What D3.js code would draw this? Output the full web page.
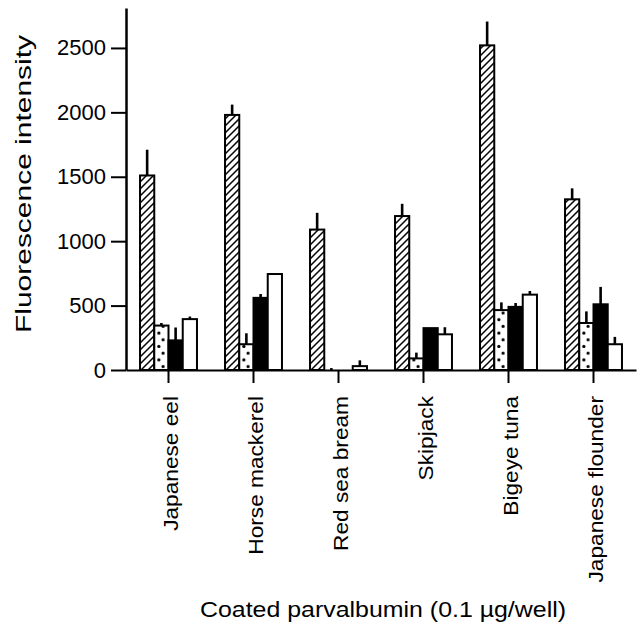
<!DOCTYPE html>
<html>
<head>
<meta charset="utf-8">
<script src="https://cdn.jsdelivr.net/npm/d3@7"></script>
<style>
  body { margin: 0; background: #fff; }
  svg { font-family: "Liberation Sans", Arial, Helvetica, sans-serif; }
</style>
</head>
<body>
<svg id="chart" width="640" height="626"></svg>
<script>
// categories and series
var categories = ["Japanese eel", "Horse mackerel", "Red sea bream", "Skipjack", "Bigeye tuna", "Japanese flounder"];
var seriesKeys = ["hatched", "dotted", "black", "white"];

var hatchedVals = [1510, 1980, 1090, 1195, 2520, 1325],
  hatchedErr = [200, 80, 130, 95, 185, 85];
var dottedVals = [345, 200, 0, 90, 465, 365],
  dottedErr = [20, 85, 15, 45, 60, 90];
var blackVals = [230, 560, 0, 325, 490, 510],
  blackErr = [100, 30, 0, 0, 30, 135];
var whiteVals = [395, 745, 30, 277, 585, 200],
  whiteErr = [20, 0, 45, 55, 28, 57];

var yTicks = [0, 500, 1000, 1500, 2000, 2500];

var values = { hatched: hatchedVals, dotted: dottedVals, black: blackVals, white: whiteVals };
var errors = { hatched: hatchedErr, dotted: dottedErr, black: blackErr, white: whiteErr };

// layout
var plotLeft = 126, plotRight = 636, plotTop = 8, plotBottom = 370;

var svg = d3.select("#chart");

var x = d3.scaleBand()
  .domain(categories)
  .range([plotLeft, plotRight])
  .paddingInner(0.33)
  .paddingOuter(0.165);

var xs = d3.scaleBand()
  .domain(seriesKeys)
  .range([0, x.bandwidth()]);

var y = d3.scaleLinear()
  .domain([0, 2810])
  .range([plotBottom, plotTop]);

// patterns
var defs = svg.append("defs");
var hs = 7;
var hatch = defs.append("pattern")
  .attr("id", "hatch")
  .attr("patternUnits", "userSpaceOnUse")
  .attr("width", hs)
  .attr("height", hs);
hatch.append("path")
  .attr("d", "M-2,2 L2,-2 M0," + hs + " L" + hs + ",0 M" + (hs - 2) + "," + (hs + 2) + " L" + (hs + 2) + "," + (hs - 2))
  .attr("stroke", "#000")
  .attr("stroke-width", 1.5);

// dot pattern, aligned to the dotted bar inside each (translated) group
var dots = defs.append("pattern")
  .attr("id", "dots")
  .attr("patternUnits", "userSpaceOnUse")
  .attr("x", xs("dotted"))
  .attr("y", plotBottom)
  .attr("width", xs.bandwidth())
  .attr("height", 13.4);
dots.append("rect").attr("width", xs.bandwidth()).attr("height", 13.4).attr("fill", "#fff");
dots.append("circle").attr("cx", 4.6).attr("cy", 3.3).attr("r", 1.6).attr("fill", "#000");
dots.append("circle").attr("cx", 8.8).attr("cy", 10).attr("r", 1.6).attr("fill", "#000");

function fillFor(key) {
  if (key == "hatched") return "url(#hatch)";
  if (key == "dotted") return "url(#dots)";
  if (key == "black") return "#000";
  return "#fff";
}

// bars
var groups = svg.append("g").selectAll("g")
  .data(categories)
  .enter().append("g")
    .attr("transform", function(d) { return "translate(" + x(d) + ",0)"; });

groups.selectAll("rect")
  .data(function(d, i) { return seriesKeys.map(function(k) { return { key: k, v: values[k][i], e: errors[k][i] }; }); })
  .enter().append("rect")
    .attr("x", function(d) { return xs(d.key); })
    .attr("y", function(d) { return y(d.v); })
    .attr("width", xs.bandwidth())
    .attr("height", function(d) { return y(0) - y(d.v); })
    .style("fill", function(d) { return fillFor(d.key); })
    .style("stroke", "#000")
    .style("stroke-width", 2);

// error bars (upper only)
groups.selectAll("line.err")
  .data(function(d, i) { return seriesKeys.map(function(k) { return { key: k, v: values[k][i], e: errors[k][i] }; })
    .filter(function(d) { return d.e > 0; }); })
  .enter().append("line")
    .attr("class", "err")
    .attr("x1", function(d) { return xs(d.key) + xs.bandwidth() / 2; })
    .attr("x2", function(d) { return xs(d.key) + xs.bandwidth() / 2; })
    .attr("y1", function(d) { return y(d.v); })
    .attr("y2", function(d) { return y(d.v + d.e); })
    .style("stroke", "#000")
    .style("stroke-width", 2.6);

// y axis
var yAxis = svg.append("g")
  .attr("transform", "translate(" + plotLeft + ",0)")
  .call(d3.axisLeft(y).tickValues(yTicks).tickFormat(d3.format("d"))
    .tickSize(15).tickSizeOuter(0).tickPadding(5));
yAxis.select(".domain").attr("stroke-width", 2.5);
yAxis.selectAll(".tick line").attr("stroke-width", 2);
yAxis.selectAll(".tick text")
  .attr("fill", "#000")
  .style("font-size", "22px");

// x axis
var xAxis = svg.append("g")
  .attr("transform", "translate(0," + plotBottom + ")")
  .call(d3.axisBottom(x).tickSize(13).tickSizeOuter(0).tickFormat(""));
xAxis.select(".domain").attr("stroke-width", 2);
xAxis.selectAll(".tick line").attr("stroke-width", 2);

svg.append("g").selectAll("text")
  .data(categories)
  .enter().append("text")
    .attr("transform", function(d) {
      return "translate(" + (x(d) + x.bandwidth() / 2 + 9) + ",396) rotate(-90) scale(1.08,1)";
    })
    .attr("text-anchor", "end")
    .style("font-size", "21px")
    .text(function(d) { return d; });

// axis titles
svg.append("text")
  .attr("transform", "translate(31,184) rotate(-90)")
  .attr("text-anchor", "middle")
  .attr("textLength", 298)
  .attr("lengthAdjust", "spacingAndGlyphs")
  .style("font-size", "22px")
  .text("Fluorescence intensity");

svg.append("text")
  .attr("x", 383)
  .attr("y", 617)
  .attr("text-anchor", "middle")
  .attr("textLength", 366)
  .attr("lengthAdjust", "spacingAndGlyphs")
  .style("font-size", "22px")
  .text("Coated parvalbumin (0.1 µg/well)");
</script>
</body>
</html>
